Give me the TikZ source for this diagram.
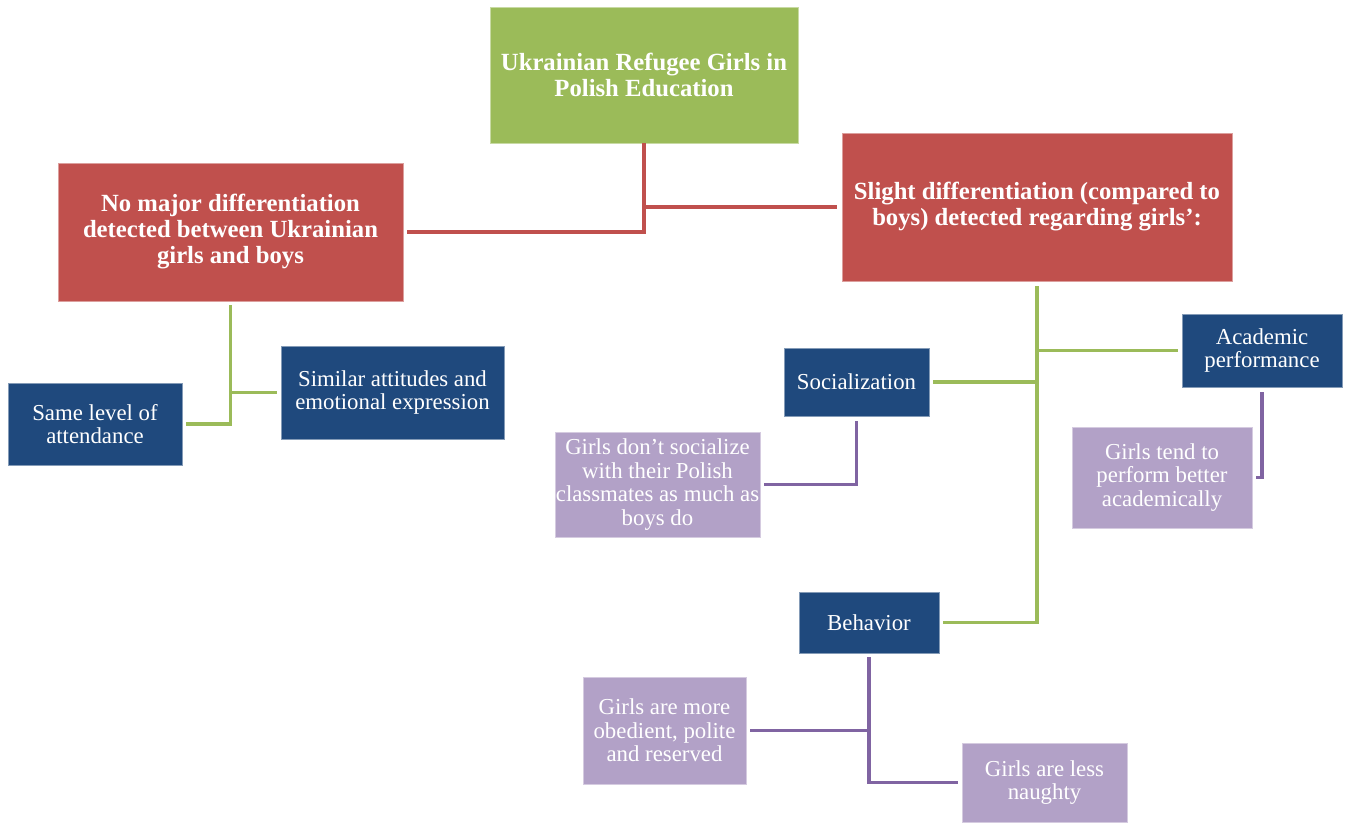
\documentclass[tikz,border=0pt]{standalone}
\usepackage{fontspec}
\setmainfont{Liberation Serif}
\definecolor{leaf}{HTML}{9BBB59}
\definecolor{brick}{HTML}{C0504D}
\definecolor{navy}{HTML}{1F497D}
\definecolor{lilac}{HTML}{B2A1C7}
\definecolor{plum}{HTML}{8064A2}
\begin{document}
\begin{tikzpicture}[x=1pt,y=-1pt,
  box/.style={rectangle, inner sep=0pt, align=center, text=white, line width=0.8pt},
  boldtext/.style={font=\fontsize{24.7}{26}\selectfont\bfseries},
  plaintext/.style={font=\fontsize{22.8}{23.5}\selectfont},
  topbox/.style={box, boldtext, fill=leaf, draw=leaf!55!white},
  mainbox/.style={box, boldtext, fill=brick, draw=brick!55!white},
  subbox/.style={box, plaintext, fill=navy, draw=navy!55!white},
  notebox/.style={box, plaintext, fill=lilac, draw=lilac!55!white},
  link/.style={line width=3.3pt, line join=miter},
  redlink/.style={link, draw=brick},
  greenlink/.style={link, draw=leaf},
  purplelink/.style={link, draw=plum}
]
% canvas
\fill[white] (0,0) rectangle (1346,823);

% top level
\node[topbox, minimum width=308pt, minimum height=136pt] (root) at (644,75)
  {Ukrainian Refugee Girls in\\Polish Education};

% second level
\node[mainbox, minimum width=345pt, minimum height=138pt] (nomajor) at (230.5,232)
  {No major differentiation\\detected between Ukrainian\\girls and boys};
\node[mainbox, minimum width=390pt, minimum height=148pt] (slight) at (1037,207)
  {Slight differentiation (compared to\\boys) detected regarding girls’:};

% third level, left
\node[subbox, minimum width=174pt, minimum height=82pt] (same) at (95,424)
  {Same level of\\attendance};
\node[subbox, minimum width=223pt, minimum height=93pt] (similar) at (392.5,392.5)
  {Similar attitudes and\\emotional expression};

% third level, right
\node[subbox, minimum width=145pt, minimum height=68pt] (social) at (856.5,382)
  {Socialization};
\node[subbox, minimum width=160pt, minimum height=73pt] (academic) at (1262,350.5)
  {Academic\\performance};
\node[subbox, minimum width=140pt, minimum height=61pt] (behavior) at (869,622.5)
  {Behavior};

% notes
\node[notebox, minimum width=205pt, minimum height=105pt] (socgirls) at (657.5,484.5)
  {Girls don’t socialize\\with their Polish\\classmates as much as\\boys do};
\node[notebox, minimum width=180pt, minimum height=101pt] (acadgirls) at (1162,477.5)
  {Girls tend to\\perform better\\academically};
\node[notebox, minimum width=163pt, minimum height=107pt] (more) at (664.5,730.5)
  {Girls are more\\obedient, polite\\and reserved};
\node[notebox, minimum width=165pt, minimum height=79pt] (less) at (1044.5,782.5)
  {Girls are less\\naughty};

% connectors from the top box
\draw[redlink] (root.south) |- ([xshift=4pt]nomajor.east);
\draw[redlink] (root.south |- slight.west) -- ([xshift=-5pt]slight.west);

% left branch
\draw[greenlink] ([yshift=-4pt]nomajor.south) |- ([xshift=4pt]same.east);
\draw[greenlink] (nomajor.south |- similar.west) -- ([xshift=-4pt]similar.west);

% right branch
\draw[greenlink] ([yshift=-5pt]slight.south) |- ([xshift=4pt]behavior.east);
\draw[greenlink] (slight.south |- academic.west) -- ([xshift=-4pt]academic.west);
\draw[greenlink] (slight.south |- social.east) -- ([xshift=4pt]social.east);

% notes
\draw[purplelink] ([yshift=-5pt]social.south) |- ([xshift=4pt]socgirls.east);
\draw[purplelink] ([yshift=-5pt]academic.south) |- ([xshift=4pt]acadgirls.east);
\draw[purplelink] ([yshift=-4pt]behavior.south) |- ([xshift=-4pt]less.west);
\draw[purplelink] (behavior.south |- more.east) -- ([xshift=4pt]more.east);
\end{tikzpicture}
\end{document}
